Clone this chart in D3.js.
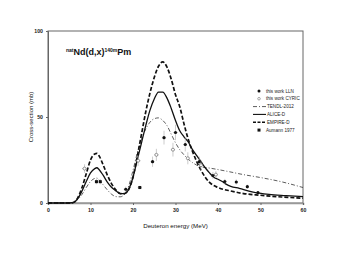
<!DOCTYPE html>
<html>
<head>
<meta charset="utf-8">
<script src="https://cdn.jsdelivr.net/npm/d3@7"></script>
<style>
  body { margin: 0; background: #fff; }
  text { font-family: Arial, "Liberation Sans", sans-serif; }
</style>
</head>
<body>
<div id="chart"></div>
<script>
var w = 341, h = 264;
var margin = {left: 48, right: 38, top: 31, bottom: 61};

// model curves [energy MeV, cross-section mb]
var tendl = [[0,0],[5,0],[6,0.3],[7,2],[8,5],[9,9],[10,12.5],[11,14.3],[11.5,14.5],[12,13.5],[13,10.5],[14,7.5],[15,5],[16,3.7],[17,3.6],[18,5],[19,10],[20,19],[21,29],[22,37],[23,43],[24,47],[25,49],[26,49.5],[27,48],[28,45],[29,40],[30,35],[31,31],[32,28],[33,25.5],[34,23.5],[35,22],[36,21],[38,20.3],[42,18.5],[46,16.5],[50,14.8],[55,12.3],[60,9]];
var alice = [[0,0],[5,0],[6,0.3],[7,2.5],[8,7],[9,12.5],[10,17.5],[11,20],[11.5,20.5],[12,19.5],[13,16],[14,12],[15,9],[16,7],[17,5.5],[18,5.5],[19,8],[20,15],[21,25],[22,35],[23,45],[24,54],[25,60.5],[26,64.5],[27,64.5],[28,61],[29,55],[30,48],[31,42],[32,38.5],[33,35.5],[34,31],[35,27.5],[36,24],[37,20.5],[38,17.5],[39,15],[40,13.8],[41,12.5],[42,10.8],[43,9.7],[45,8.5],[48,6.5],[52,5],[56,4.3],[60,3.7]];
var empire = [[0,0],[5,0],[6,0.3],[7,3],[8,9],[9,17],[10,25],[11,28.5],[11.5,28.8],[12,27.5],[13,22],[14,16],[15,11],[16,7.5],[17,5.5],[18,5.5],[19,8],[20,15],[21,27],[22,40],[23,53],[24,64],[25,73],[26,79.5],[27,82],[28,79],[29,72],[30,63],[31,56],[32,46],[33,37],[34,30],[35,24],[36,19],[37,15],[38,12],[40,9],[43,7],[46,5.5],[50,4.5],[55,3.5],[60,2.8]];

// measured points [energy, value, dE, dValue]
var lln = [[18.3,8,0.5,1.5],[24.6,24,0.5,3],[27.3,38,0.5,4],[30,41,0.5,4.5],[32.3,34,0.4,4],[35.6,24,0.4,3],[38.8,16,0.4,2],[41.6,12.5,0.4,1.5],[44.3,12.2,0.3,1.5],[46.9,9.5,0.3,1.2],[49.4,6,0.3,1]];
var cyric = [[8.6,20,0.6,2.5],[21.2,24.6,0.6,3],[25.5,28,0.5,3.5],[29.4,31,0.5,4],[32.9,26,0.4,3.5],[36,22,0.4,3],[39.5,16.5,0.4,2]];
var aumann = [[11.4,12.4,0.4,1.5],[12.3,12.4,0.4,1.5],[21.6,9,0.5,1]];

var xTicks = [0,10,20,30,40,50,60];
var yTicks = [0,50,100];
var legendNames = ["this work LLN","this work CYRIC","TENDL-2012","ALICE-D","EMPIRE-D","Aumann 1977"];

var svg = d3.select("#chart").append("svg").attr("width", w).attr("height", h);

var x = d3.scaleLinear().domain([0,60]).range([margin.left, w - margin.right]);
var y = d3.scaleLinear().domain([0,100]).range([h - margin.bottom, margin.top]);

// frame
svg.append("rect")
  .attr("x", x(0)).attr("y", y(100))
  .attr("width", x(60) - x(0)).attr("height", y(0) - y(100))
  .attr("fill", "none").attr("stroke", "#666").attr("stroke-width", 1);

var xAxis = d3.axisBottom(x).tickValues(xTicks).tickSize(2).tickPadding(3);
var gx = svg.append("g").attr("transform", "translate(0," + y(0) + ")").call(xAxis);
gx.select(".domain").attr("stroke", "#999").attr("stroke-width", 1.6);
gx.selectAll("text").attr("font-size", 5.2).attr("font-weight", "bold").attr("fill", "#222");
gx.selectAll("line").attr("stroke", "#666");

var yAxis = d3.axisLeft(y).tickValues(yTicks).tickSize(2).tickPadding(3);
var gy = svg.append("g").attr("transform", "translate(" + x(0) + ",0)").call(yAxis);
gy.select(".domain").attr("stroke", "#666");
gy.selectAll("text").attr("font-size", 5.2).attr("font-weight", "bold").attr("fill", "#222");
gy.selectAll("line").attr("stroke", "#666");

svg.append("text")
  .attr("x", (x(0) + x(60)) / 2).attr("y", 228)
  .attr("text-anchor", "middle").attr("font-size", 6.2).attr("fill", "#111")
  .text("Deuteron energy (MeV)");

svg.append("text")
  .attr("transform", "translate(33," + ((y(0) + y(100)) / 2) + ") rotate(-90)")
  .attr("text-anchor", "middle").attr("font-size", 6).attr("fill", "#111")
  .text("Cross-section (mb)");

// title with superscripts
var title = svg.append("text").attr("x", 66).attr("y", 55).attr("font-weight", "bold").attr("font-size", 9).attr("fill", "#111");
title.append("tspan").attr("font-size", 5).attr("dy", -3.5).text("nat");
title.append("tspan").attr("dy", 3.5).text("Nd(d,x)");
title.append("tspan").attr("font-size", 5).attr("dy", -3.5).text("140m");
title.append("tspan").attr("dy", 3.5).text("Pm");

var line = d3.line().curve(d3.curveMonotoneX).x(d => x(d[0])).y(d => y(d[1]));

svg.append("path").datum(tendl).attr("d", line)
  .attr("fill", "none").attr("stroke", "#333").attr("stroke-width", 0.8).attr("stroke-dasharray", "4,2,1,2");
svg.append("path").datum(alice).attr("d", line)
  .attr("fill", "none").attr("stroke", "#111").attr("stroke-width", 1.3);
svg.append("path").datum(empire).attr("d", line)
  .attr("fill", "none").attr("stroke", "#111").attr("stroke-width", 1.7).attr("stroke-dasharray", "4,2");

// error bars
function errorBars(data) {
  var g = svg.append("g").attr("stroke", "#aaa").attr("stroke-width", 0.6);
  g.selectAll(".v").data(data).enter().append("line")
    .attr("x1", d => x(d[0])).attr("x2", d => x(d[0]))
    .attr("y1", d => y(d[1] - d[3])).attr("y2", d => y(d[1] + d[3]));
  g.selectAll(".h").data(data).enter().append("line")
    .attr("x1", d => x(d[0] - d[2])).attr("x2", d => x(d[0] + d[2]))
    .attr("y1", d => y(d[1])).attr("y2", d => y(d[1]));
}
errorBars(cyric);
errorBars(lln);
errorBars(aumann);

svg.append("g").selectAll("circle").data(cyric).enter().append("circle")
  .attr("cx", d => x(d[0])).attr("cy", d => y(d[1])).attr("r", 1.5)
  .attr("fill", "#fff").attr("stroke", "#555").attr("stroke-width", 0.6);
svg.append("g").selectAll("circle").data(lln).enter().append("circle")
  .attr("cx", d => x(d[0])).attr("cy", d => y(d[1])).attr("r", 1.6)
  .attr("fill", "#111");
svg.append("g").selectAll("rect").data(aumann).enter().append("rect")
  .attr("x", d => x(d[0]) - 1.5).attr("y", d => y(d[1]) - 1.5)
  .attr("width", 3).attr("height", 3).attr("fill", "#111");

// legend
var legY = d3.scaleBand().domain(legendNames).range([87, 134]);
var leg = svg.append("g");
legendNames.forEach(function(name, i) {
  var cy = legY(name) + legY.bandwidth() / 2;
  if (i == 0) leg.append("circle").attr("cx", 259).attr("cy", cy).attr("r", 1.5).attr("fill", "#111");
  if (i == 1) leg.append("circle").attr("cx", 259).attr("cy", cy).attr("r", 1.3).attr("fill", "#fff").attr("stroke", "#555").attr("stroke-width", 0.5);
  if (i == 2) leg.append("line").attr("x1", 253).attr("x2", 266).attr("y1", cy).attr("y2", cy)
    .attr("stroke", "#333").attr("stroke-width", 0.8).attr("stroke-dasharray", "4,2,1,2");
  if (i == 3) leg.append("line").attr("x1", 253).attr("x2", 266).attr("y1", cy).attr("y2", cy)
    .attr("stroke", "#111").attr("stroke-width", 1.1);
  if (i == 4) leg.append("line").attr("x1", 253).attr("x2", 266).attr("y1", cy).attr("y2", cy)
    .attr("stroke", "#111").attr("stroke-width", 1.5).attr("stroke-dasharray", "3,1.5");
  if (i == 5) leg.append("rect").attr("x", 257.5).attr("y", cy - 1.5).attr("width", 3).attr("height", 3).attr("fill", "#111");
  leg.append("text").attr("x", i >= 2 && i <= 4 ? 267 : 266).attr("y", cy + 1.7)
    .attr("font-size", 4.6).attr("fill", "#222").text(name);
});
</script>
</body>
</html>
